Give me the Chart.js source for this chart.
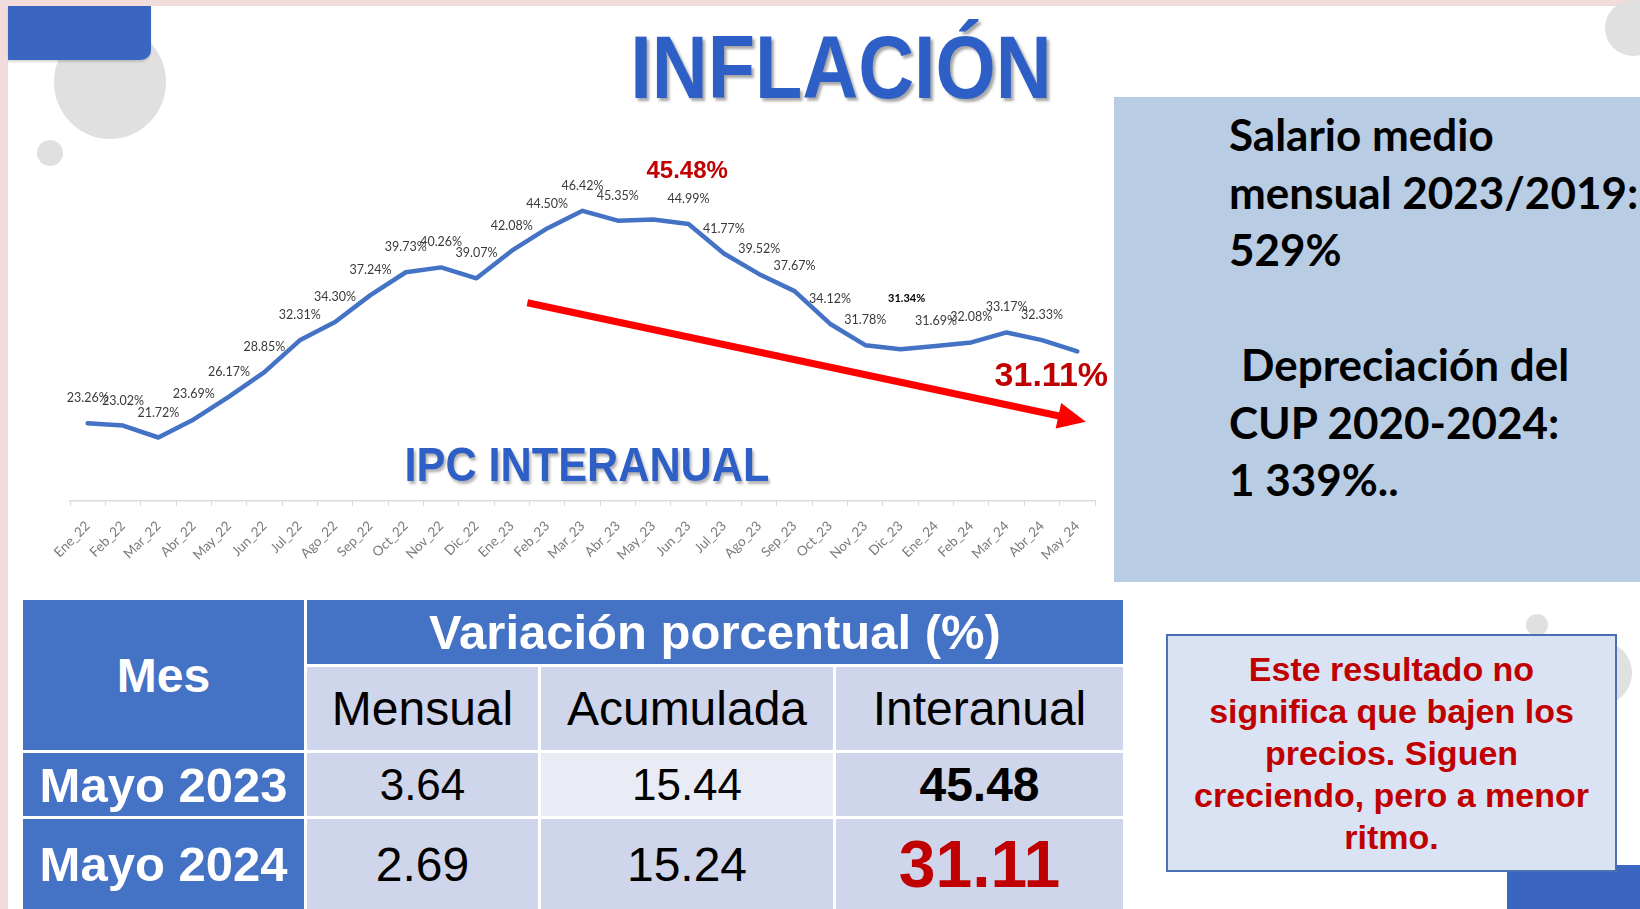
<!DOCTYPE html>
<html>
<head>
<meta charset="utf-8">
<script src="https://cdn.jsdelivr.net/npm/chart.js@4.4.1/dist/chart.umd.min.js"></script>
<style>
  html, body { margin: 0; padding: 0; }
  body {
    width: 1640px; height: 909px; position: relative; overflow: hidden;
    background: #fff; font-family: "Liberation Sans", Arial, sans-serif;
  }
  .abs { position: absolute; }
  .circulo { position: absolute; border-radius: 50%; background: #e0e0e0; }
  #marcoTop { left: 0; top: 0; width: 1640px; height: 6px; background: #f2dcdb; }
  #marcoIzq { left: 0; top: 0; width: 8px; height: 909px; background: #f2dcdb; }
  #bloque { left: 8px; top: 6px; width: 143px; height: 54px; background: #3a66c1;
            border-bottom-right-radius: 10px; box-shadow: 0 2px 2px rgba(0,0,0,0.15); }
  #bloque2 { left: 1507px; top: 865px; width: 133px; height: 44px; background: #3a66c1; }
  #titulo { left: 841px; top: 16px; font-size: 89px; font-weight: bold; color: #2e5fc6;
            white-space: nowrap; transform: translateX(-50%) scaleX(0.87);
            text-shadow: 3px 3px 3px rgba(0,0,0,0.35); }
  #subtitulo { left: 587px; top: 437px; font-size: 48px; font-weight: bold; color: #2e5fc6;
               white-space: nowrap; transform: translateX(-50%) scaleX(0.9);
               text-shadow: 2px 3px 3px rgba(0,0,0,0.3); }
  #grafico { position: absolute; left: 0; top: 0; }
  #cajaDerecha { left: 1114px; top: 97px; width: 526px; height: 485px; background: #b8cce4; }
  #textoDerecha { left: 1229px; top: 106px; font-family: Lato, "Open Sans", sans-serif;
                  font-weight: bold; font-size: 44px; line-height: 57.5px; color: #000; white-space: nowrap; }
  #nota { left: 1166px; top: 634px; width: 447px; height: 234px; background: #dae3f3;
          border: 2px solid #4a6fb5; text-align: center; color: #c00000;
          font-weight: bold; font-size: 34px; line-height: 42px; }
  #nota div { padding-top: 12px; }
  #tabla { position: absolute; left: 20px; top: 597px; border-collapse: separate;
           border-spacing: 3px; table-layout: fixed; }
  #tabla td { padding: 0; text-align: center; vertical-align: middle; white-space: nowrap; }
  #tabla td.azul { background: #4472c4; color: #fff; font-weight: bold; }
  #tabla td.claro { background: #cfd5ea; color: #000; }
  #tabla td.masclaro { background: #e9ebf5; color: #000; }
</style>
</head>
<body>
<div id="marcoTop" class="abs"></div>
<div id="marcoIzq" class="abs"></div>
<div class="circulo" style="left:54px;top:25px;width:112px;height:114px;"></div>
<div class="circulo" style="left:37px;top:140px;width:26px;height:26px;"></div>
<div class="circulo" style="left:1605px;top:0px;width:56px;height:56px;"></div>
<div class="circulo" style="left:1526px;top:614px;width:22px;height:22px;"></div>
<div class="circulo" style="left:1568px;top:641px;width:64px;height:64px;"></div>
<div id="bloque" class="abs"></div>
<div id="bloque2" class="abs"></div>

<canvas id="grafico" width="1110" height="590"></canvas>

<div id="titulo" class="abs">INFLACIÓN</div>
<div id="subtitulo" class="abs">IPC INTERANUAL</div>

<div id="cajaDerecha" class="abs"></div>
<div id="textoDerecha" class="abs">Salario medio<br>mensual 2023/2019:<br>529%<br><br><span style="padding-left:12px">Depreciación del</span><br>CUP 2020-2024:<br>1 339%..</div>

<div id="nota" class="abs"><div>Este resultado no<br>significa que bajen los<br>precios. Siguen<br>creciendo, pero a menor<br>ritmo.</div></div>

<table id="tabla"></table>

<script>
// Datos del gráfico: IPC interanual (%)
const meses = ["Ene_22", "Feb_22", "Mar_22", "Abr_22", "May_22", "Jun_22", "Jul_22", "Ago_22", "Sep_22", "Oct_22", "Nov_22", "Dic_22",
  "Ene_23", "Feb_23", "Mar_23", "Abr_23", "May_23", "Jun_23", "Jul_23", "Ago_23", "Sep_23", "Oct_23", "Nov_23", "Dic_23",
  "Ene_24", "Feb_24", "Mar_24", "Abr_24", "May_24"];
const ipcInteranual = [23.26, 23.02, 21.72, 23.69, 26.17, 28.85, 32.31, 34.30, 37.24, 39.73, 40.26, 39.07,
  42.08, 44.50, 46.42, 45.35, 45.48, 44.99, 41.77, 39.52, 37.67, 34.12, 31.78, 31.34,
  31.69, 32.08, 33.17, 32.33, 31.11];

// Datos de la tabla
const filasMes = ["Mayo 2023", "Mayo 2024"];
const varMensual = [3.64, 2.69];
const varAcumulada = [15.44, 15.24];
const varInteranual = [45.48, 31.11];

// etiquetas con estilo propio (resaltadas en la lámina)
const etiquetaEspecial = {
  May_23: { font: 'bold 24px "Liberation Sans"', color: "#c00000", dx: 34, dy: -48 },
  Dic_23: { font: 'bold 11px Lato', color: "#000", dx: 6, dy: -51 },
  May_24: { font: 'bold 34px "Liberation Sans"', color: "#c00000", dx: -26, dy: 25 }
};

// flecha de tendencia, en unidades de los ejes (índice de mes, %)
const flechaDesde = [12.44, 36.4];
const flechaHasta = [28.24, 23.45];

const etiquetasPlugin = {
  id: "etiquetas",
  afterDatasetsDraw(chart) {
    const ctx = chart.ctx;
    const xs = chart.scales.x, ys = chart.scales.y;

    // flecha roja
    const x0 = xs.getPixelForValue(flechaDesde[0]), y0 = ys.getPixelForValue(flechaDesde[1]);
    const x1 = xs.getPixelForValue(flechaHasta[0]), y1 = ys.getPixelForValue(flechaHasta[1]);
    const ang = Math.atan2(y1 - y0, x1 - x0);
    const largo = 28, ancho = 13;
    const bx = x1 - largo * Math.cos(ang), by = y1 - largo * Math.sin(ang);
    ctx.save();
    ctx.strokeStyle = "#ff0000";
    ctx.fillStyle = "#ff0000";
    ctx.lineWidth = 7;
    ctx.beginPath();
    ctx.moveTo(x0, y0);
    ctx.lineTo(bx + 2 * Math.cos(ang), by + 2 * Math.sin(ang));
    ctx.stroke();
    ctx.beginPath();
    ctx.moveTo(x1, y1);
    ctx.lineTo(bx + ancho * Math.sin(ang), by - ancho * Math.cos(ang));
    ctx.lineTo(bx - ancho * Math.sin(ang), by + ancho * Math.cos(ang));
    ctx.closePath();
    ctx.fill();

    // etiquetas de datos
    const meta = chart.getDatasetMeta(0);
    ctx.textAlign = "center";
    ctx.textBaseline = "middle";
    meta.data.forEach((pt, i) => {
      const val = ipcInteranual[i];
      const esp = etiquetaEspecial[meses[i]];
      ctx.font = esp ? esp.font : "12.5px Lato";
      ctx.fillStyle = esp ? esp.color : "#3a3a3a";
      const dx = esp ? esp.dx : 0, dy = esp ? esp.dy : -25;
      ctx.fillText(val.toFixed(2) + "%", pt.x + dx, pt.y + dy);
    });
    ctx.restore();
  }
};

new Chart(document.getElementById("grafico"), {
  type: "line",
  data: {
    labels: meses,
    datasets: [{
      label: "IPC interanual",
      data: ipcInteranual,
      borderColor: "#4472c4",
      borderWidth: 4.5,
      pointRadius: 0,
      tension: 0,
      borderJoinStyle: "round",
      borderCapStyle: "round",
      fill: false
    }]
  },
  options: {
    responsive: false,
    animation: false,
    layout: { padding: { left: 70, right: 15, top: 178, bottom: 0 } },
    plugins: { legend: { display: false }, tooltip: { enabled: false } },
    scales: {
      y: { display: false, min: 14.8, max: 50 },
      x: {
        offset: true,
        grid: { drawOnChartArea: false, offset: true, tickLength: 5, color: "#d9d9d9" },
        border: { color: "#d9d9d9", width: 1.5 },
        ticks: { autoSkip: false, minRotation: 45, maxRotation: 45, padding: 12,
                 color: "#7a7a7a", font: { family: "Lato", size: 13.5 } },
        afterFit(scale) { scale.height = 89; }
      }
    }
  },
  plugins: [etiquetasPlugin]
});

// tabla
const tabla = document.getElementById("tabla");
const anchos = [281, 231, 292, 287];
let html = "<colgroup>" + anchos.map(w => `<col style="width:${w}px">`).join("") + "</colgroup>";
html += `<tr style="height:64px"><td class="azul" rowspan="2" style="font-size:48px">Mes</td>` +
        `<td class="azul" colspan="3" style="font-size:49px">Variación porcentual (%)</td></tr>`;
html += `<tr style="height:83px">` + ["Mensual", "Acumulada", "Interanual"]
        .map(t => `<td class="claro" style="font-size:48px">${t}</td>`).join("") + "</tr>";
filasMes.forEach((m, i) => {
  const alto = i === 0 ? 63 : 90;
  const tam = i === 0 ? 44 : 48;
  const interStyle = i === 0 ? "font-size:48px;font-weight:bold" : "font-size:66px;font-weight:bold;color:#c00000";
  html += `<tr style="height:${alto}px">` +
    `<td class="azul" style="font-size:49px">${m}</td>` +
    `<td class="claro" style="font-size:${tam}px">${varMensual[i].toFixed(2)}</td>` +
    `<td class="${i === 0 ? "masclaro" : "claro"}" style="font-size:${tam}px">${varAcumulada[i].toFixed(2)}</td>` +
    `<td class="claro" style="${interStyle}">${varInteranual[i].toFixed(2)}</td></tr>`;
});
tabla.innerHTML = html;
</script>
</body>
</html>
